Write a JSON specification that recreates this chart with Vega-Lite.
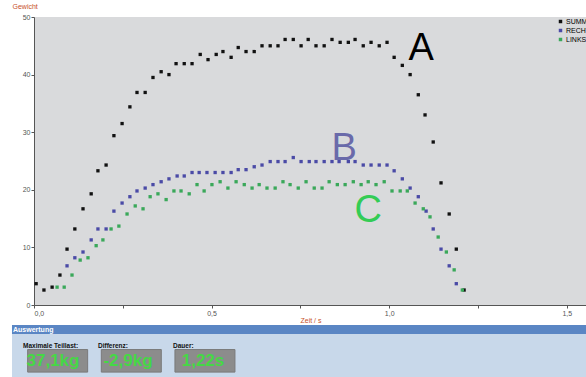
{
 "$schema": "https://vega.github.io/schema/vega-lite/v6.json",
 "background": "white",
 "padding": {"left": 11, "top": 2, "right": 0, "bottom": 0},
 "spacing": 2,
 "config": {"font": "Liberation Sans", "view": {"stroke": null}},
 "datasets": {
  "pts": [
   {"t":0.006,"kg":3.7,"series":"SUMME"},{"t":0.028,"kg":2.6,"series":"SUMME"},{"t":0.051,"kg":3.1,"series":"SUMME"},{"t":0.073,"kg":5.2,"series":"SUMME"},{"t":0.093,"kg":9.7,"series":"SUMME"},{"t":0.115,"kg":13.2,"series":"SUMME"},{"t":0.138,"kg":16.7,"series":"SUMME"},{"t":0.161,"kg":19.3,"series":"SUMME"},{"t":0.180,"kg":23.3,"series":"SUMME"},{"t":0.203,"kg":24.3,"series":"SUMME"},{"t":0.225,"kg":29.4,"series":"SUMME"},{"t":0.248,"kg":31.5,"series":"SUMME"},{"t":0.270,"kg":34.4,"series":"SUMME"},{"t":0.290,"kg":36.9,"series":"SUMME"},{"t":0.313,"kg":36.9,"series":"SUMME"},{"t":0.335,"kg":39.5,"series":"SUMME"},{"t":0.358,"kg":40.5,"series":"SUMME"},{"t":0.380,"kg":40.0,"series":"SUMME"},{"t":0.400,"kg":41.9,"series":"SUMME"},{"t":0.423,"kg":41.9,"series":"SUMME"},{"t":0.445,"kg":41.9,"series":"SUMME"},{"t":0.468,"kg":43.5,"series":"SUMME"},{"t":0.490,"kg":42.6,"series":"SUMME"},{"t":0.513,"kg":43.5,"series":"SUMME"},{"t":0.532,"kg":44.0,"series":"SUMME"},{"t":0.555,"kg":43.0,"series":"SUMME"},{"t":0.575,"kg":44.7,"series":"SUMME"},{"t":0.597,"kg":44.0,"series":"SUMME"},{"t":0.620,"kg":44.0,"series":"SUMME"},{"t":0.642,"kg":45.0,"series":"SUMME"},{"t":0.665,"kg":45.0,"series":"SUMME"},{"t":0.687,"kg":45.0,"series":"SUMME"},{"t":0.707,"kg":46.1,"series":"SUMME"},{"t":0.730,"kg":46.1,"series":"SUMME"},{"t":0.752,"kg":45.0,"series":"SUMME"},{"t":0.772,"kg":46.1,"series":"SUMME"},{"t":0.794,"kg":45.0,"series":"SUMME"},{"t":0.817,"kg":45.0,"series":"SUMME"},{"t":0.839,"kg":46.1,"series":"SUMME"},{"t":0.862,"kg":45.6,"series":"SUMME"},{"t":0.885,"kg":45.6,"series":"SUMME"},{"t":0.904,"kg":46.1,"series":"SUMME"},{"t":0.927,"kg":45.0,"series":"SUMME"},{"t":0.949,"kg":45.6,"series":"SUMME"},{"t":0.972,"kg":45.0,"series":"SUMME"},{"t":0.994,"kg":45.6,"series":"SUMME"},{"t":1.014,"kg":43.0,"series":"SUMME"},{"t":1.037,"kg":41.6,"series":"SUMME"},{"t":1.059,"kg":40.0,"series":"SUMME"},{"t":1.082,"kg":36.5,"series":"SUMME"},{"t":1.101,"kg":33.0,"series":"SUMME"},{"t":1.124,"kg":28.3,"series":"SUMME"},{"t":1.146,"kg":21.2,"series":"SUMME"},{"t":1.169,"kg":15.8,"series":"SUMME"},{"t":1.189,"kg":9.7,"series":"SUMME"},{"t":1.211,"kg":2.6,"series":"SUMME"},
   {"t":0.093,"kg":6.8,"series":"RECHTS"},{"t":0.115,"kg":8.2,"series":"RECHTS"},{"t":0.138,"kg":9.2,"series":"RECHTS"},{"t":0.161,"kg":11.3,"series":"RECHTS"},{"t":0.180,"kg":13.2,"series":"RECHTS"},{"t":0.203,"kg":13.2,"series":"RECHTS"},{"t":0.225,"kg":16.3,"series":"RECHTS"},{"t":0.248,"kg":17.7,"series":"RECHTS"},{"t":0.270,"kg":18.8,"series":"RECHTS"},{"t":0.290,"kg":19.8,"series":"RECHTS"},{"t":0.313,"kg":20.3,"series":"RECHTS"},{"t":0.335,"kg":20.9,"series":"RECHTS"},{"t":0.358,"kg":21.4,"series":"RECHTS"},{"t":0.380,"kg":21.9,"series":"RECHTS"},{"t":0.403,"kg":22.4,"series":"RECHTS"},{"t":0.423,"kg":22.4,"series":"RECHTS"},{"t":0.445,"kg":23.0,"series":"RECHTS"},{"t":0.465,"kg":23.0,"series":"RECHTS"},{"t":0.487,"kg":23.0,"series":"RECHTS"},{"t":0.510,"kg":23.0,"series":"RECHTS"},{"t":0.532,"kg":23.0,"series":"RECHTS"},{"t":0.555,"kg":23.0,"series":"RECHTS"},{"t":0.575,"kg":23.5,"series":"RECHTS"},{"t":0.597,"kg":23.5,"series":"RECHTS"},{"t":0.620,"kg":24.0,"series":"RECHTS"},{"t":0.642,"kg":24.3,"series":"RECHTS"},{"t":0.665,"kg":24.9,"series":"RECHTS"},{"t":0.687,"kg":24.9,"series":"RECHTS"},{"t":0.707,"kg":24.9,"series":"RECHTS"},{"t":0.730,"kg":25.6,"series":"RECHTS"},{"t":0.752,"kg":24.9,"series":"RECHTS"},{"t":0.775,"kg":24.9,"series":"RECHTS"},{"t":0.794,"kg":24.9,"series":"RECHTS"},{"t":0.817,"kg":24.9,"series":"RECHTS"},{"t":0.839,"kg":24.9,"series":"RECHTS"},{"t":0.859,"kg":24.9,"series":"RECHTS"},{"t":0.885,"kg":24.9,"series":"RECHTS"},{"t":0.904,"kg":24.9,"series":"RECHTS"},{"t":0.927,"kg":24.3,"series":"RECHTS"},{"t":0.949,"kg":24.3,"series":"RECHTS"},{"t":0.972,"kg":24.3,"series":"RECHTS"},{"t":0.994,"kg":24.3,"series":"RECHTS"},{"t":1.014,"kg":23.3,"series":"RECHTS"},{"t":1.037,"kg":21.9,"series":"RECHTS"},{"t":1.059,"kg":20.3,"series":"RECHTS"},{"t":1.082,"kg":18.8,"series":"RECHTS"},{"t":1.104,"kg":16.3,"series":"RECHTS"},{"t":1.124,"kg":13.2,"series":"RECHTS"},{"t":1.146,"kg":9.7,"series":"RECHTS"},{"t":1.169,"kg":6.8,"series":"RECHTS"},{"t":1.189,"kg":3.7,"series":"RECHTS"},
   {"t":0.065,"kg":3.1,"series":"LINKS"},{"t":0.085,"kg":3.1,"series":"LINKS"},{"t":0.107,"kg":5.2,"series":"LINKS"},{"t":0.130,"kg":7.8,"series":"LINKS"},{"t":0.152,"kg":8.2,"series":"LINKS"},{"t":0.175,"kg":10.3,"series":"LINKS"},{"t":0.194,"kg":11.3,"series":"LINKS"},{"t":0.217,"kg":13.2,"series":"LINKS"},{"t":0.239,"kg":13.7,"series":"LINKS"},{"t":0.262,"kg":15.8,"series":"LINKS"},{"t":0.285,"kg":17.2,"series":"LINKS"},{"t":0.307,"kg":16.7,"series":"LINKS"},{"t":0.327,"kg":18.8,"series":"LINKS"},{"t":0.349,"kg":19.3,"series":"LINKS"},{"t":0.372,"kg":18.3,"series":"LINKS"},{"t":0.394,"kg":19.8,"series":"LINKS"},{"t":0.414,"kg":19.8,"series":"LINKS"},{"t":0.437,"kg":19.3,"series":"LINKS"},{"t":0.459,"kg":20.9,"series":"LINKS"},{"t":0.479,"kg":19.8,"series":"LINKS"},{"t":0.501,"kg":20.9,"series":"LINKS"},{"t":0.524,"kg":21.4,"series":"LINKS"},{"t":0.546,"kg":20.3,"series":"LINKS"},{"t":0.569,"kg":21.4,"series":"LINKS"},{"t":0.592,"kg":20.9,"series":"LINKS"},{"t":0.614,"kg":20.3,"series":"LINKS"},{"t":0.634,"kg":20.9,"series":"LINKS"},{"t":0.656,"kg":20.3,"series":"LINKS"},{"t":0.679,"kg":20.3,"series":"LINKS"},{"t":0.701,"kg":21.4,"series":"LINKS"},{"t":0.721,"kg":20.9,"series":"LINKS"},{"t":0.744,"kg":20.3,"series":"LINKS"},{"t":0.766,"kg":21.4,"series":"LINKS"},{"t":0.789,"kg":20.3,"series":"LINKS"},{"t":0.811,"kg":20.3,"series":"LINKS"},{"t":0.831,"kg":21.4,"series":"LINKS"},{"t":0.854,"kg":20.9,"series":"LINKS"},{"t":0.876,"kg":20.9,"series":"LINKS"},{"t":0.899,"kg":21.4,"series":"LINKS"},{"t":0.921,"kg":20.9,"series":"LINKS"},{"t":0.941,"kg":21.4,"series":"LINKS"},{"t":0.963,"kg":20.9,"series":"LINKS"},{"t":0.986,"kg":21.4,"series":"LINKS"},{"t":1.008,"kg":19.8,"series":"LINKS"},{"t":1.031,"kg":19.8,"series":"LINKS"},{"t":1.051,"kg":19.8,"series":"LINKS"},{"t":1.073,"kg":17.7,"series":"LINKS"},{"t":1.096,"kg":16.7,"series":"LINKS"},{"t":1.115,"kg":15.3,"series":"LINKS"},{"t":1.138,"kg":11.8,"series":"LINKS"},{"t":1.161,"kg":9.2,"series":"LINKS"},{"t":1.183,"kg":6.1,"series":"LINKS"},{"t":1.206,"kg":2.6,"series":"LINKS"}
  ],
  "letters": [
   {"letter":"A","t":1.090,"kg":44.5},
   {"letter":"B","t":0.873,"kg":27.0},
   {"letter":"C","t":0.941,"kg":16.3}
  ],
  "results": [
   {"metric":"Maximale Teillast:","value":"37,1kg"},
   {"metric":"Differenz:","value":"-2,9kg"},
   {"metric":"Dauer:","value":"1,22s"}
  ],
  "header": [{"section":"Auswertung"}]
 },
 "vconcat": [
  {
   "width": 553,
   "height": 288,
   "view": {"fill": "#d9dadc", "stroke": null},
   "layer": [
    {
     "data": {"name": "pts"},
     "mark": {"type": "point", "shape": "square", "filled": true, "size": 11, "opacity": 1},
     "encoding": {
      "x": {"field": "t", "type": "quantitative",
            "scale": {"domain": [0, 1.557], "nice": false, "zero": false},
            "axis": {"values": [0, 0.25, 0.5, 0.75, 1, 1.25, 1.5],
                     "labelExpr": "datum.value * 2 == round(datum.value * 2) ? replace(format(datum.value, '.1f'), '.', ',') : ''",
                     "grid": false, "title": "Zeit / s", "titleFontSize": 7, "titleColor": "#c8502a",
                     "titleFontWeight": "normal", "titlePadding": 0, "labelFontSize": 7, "labelColor": "#555555",
                     "tickSize": 3, "tickColor": "#555555", "domainColor": "#555555", "labelPadding": 1}},
      "y": {"field": "kg", "type": "quantitative",
            "scale": {"domain": [0, 50], "nice": false},
            "axis": {"values": [0, 5, 10, 15, 20, 25, 30, 35, 40, 45, 50],
                     "labelExpr": "datum.value % 10 == 0 ? datum.label : ''",
                     "grid": false, "title": "Gewicht", "titleAngle": 0, "titleX": -22, "titleY": -9,
                     "titleAlign": "left", "titleBaseline": "alphabetic", "titleFontSize": 7,
                     "titleColor": "#c8502a", "titleFontWeight": "normal", "labelFontSize": 7,
                     "labelColor": "#555555", "tickSize": 3, "tickColor": "#555555",
                     "domainColor": "#555555", "labelPadding": 1}},
      "color": {"field": "series", "type": "nominal",
                "scale": {"domain": ["SUMME", "RECHTS", "LINKS"], "range": ["#111111", "#4a4aa6", "#3aa85a"]},
                "legend": {"orient": "none", "legendX": 523, "legendY": 1, "title": null,
                           "symbolType": "square", "symbolSize": 12, "labelFontSize": 7,
                           "rowPadding": 1, "labelOffset": 2, "symbolStrokeWidth": 0,
                           "encode": {"labels": {"update": {"fill": {"signal": "datum.value === 'SUMME' ? '#111111' : datum.value === 'RECHTS' ? '#5a5ab0' : '#3aa85a'"}}}}}}
     }
    },
    {
     "data": {"name": "letters"},
     "mark": {"type": "text", "fontSize": 38, "baseline": "middle", "align": "center"},
     "encoding": {
      "x": {"field": "t", "type": "quantitative"},
      "y": {"field": "kg", "type": "quantitative"},
      "text": {"field": "letter"},
      "color": {"field": "letter", "type": "nominal",
                "scale": {"domain": ["A", "B", "C"], "range": ["#000000", "#6a6aaa", "#33cc55"]},
                "legend": null}
     }
    }
   ],
   "resolve": {"scale": {"color": "independent"}}
  },
  {
   "width": 553,
   "height": 53,
   "layer": [
    {
     "data": {"name": "header"},
     "mark": {"type": "rect", "color": "#c8d8ea"},
     "encoding": {
      "x": {"datum": -0.0398, "type": "quantitative", "scale": {"domain": [0, 1], "nice": false, "zero": false}, "axis": null},
      "x2": {"datum": 1},
      "y": {"datum": 0, "type": "quantitative", "scale": {"domain": [0, 1], "nice": false}, "axis": null},
      "y2": {"datum": 0.83}
     }
    },
    {
     "data": {"name": "header"},
     "mark": {"type": "rect", "color": "#5a86c4"},
     "encoding": {
      "x": {"datum": -0.0398, "type": "quantitative", "scale": {"domain": [0, 1], "nice": false, "zero": false}, "axis": null},
      "x2": {"datum": 1},
      "y": {"datum": 0.83, "type": "quantitative", "scale": {"domain": [0, 1], "nice": false}, "axis": null},
      "y2": {"datum": 1}
     }
    },
    {
     "data": {"name": "header"},
     "mark": {"type": "text", "color": "white", "fontSize": 7, "fontWeight": "bold", "align": "left", "baseline": "middle"},
     "encoding": {
      "x": {"datum": -0.038, "type": "quantitative", "scale": {"domain": [0, 1], "nice": false, "zero": false}, "axis": null},
      "y": {"datum": 0.915, "type": "quantitative", "scale": {"domain": [0, 1], "nice": false}, "axis": null},
      "text": {"field": "section"}
     }
    },
    {
     "data": {"name": "results"},
     "transform": [{"window": [{"op": "row_number", "as": "slot"}]}],
     "mark": {"type": "bar", "color": "#8c8c8c", "stroke": "#7a7a7a", "strokeWidth": 1, "width": 60},
     "encoding": {
      "x": {"field": "slot", "type": "quantitative", "scale": {"domain": [0.7467, 8.12], "nice": false, "zero": false}, "axis": null},
      "y": {"datum": 0.111, "type": "quantitative", "scale": {"domain": [0, 1], "nice": false}, "axis": null},
      "y2": {"datum": 0.537}
     }
    },
    {
     "data": {"name": "results"},
     "transform": [{"window": [{"op": "row_number", "as": "slot"}]}],
     "mark": {"type": "text", "color": "#45d845", "fontSize": 17, "fontWeight": "bold", "baseline": "middle", "align": "center"},
     "encoding": {
      "x": {"field": "slot", "type": "quantitative", "scale": {"domain": [0.7467, 8.12], "nice": false, "zero": false}, "axis": null},
      "y": {"datum": 0.324, "type": "quantitative", "scale": {"domain": [0, 1], "nice": false}, "axis": null},
      "text": {"field": "value"}
     }
    },
    {
     "data": {"name": "results"},
     "transform": [{"window": [{"op": "row_number", "as": "slot"}]}],
     "mark": {"type": "text", "color": "#111111", "fontSize": 6.5, "fontWeight": "bold", "baseline": "middle", "align": "left"},
     "encoding": {
      "x": {"field": "slot", "type": "quantitative", "scale": {"domain": [1.1467, 8.52], "nice": false, "zero": false}, "axis": null},
      "y": {"datum": 0.61, "type": "quantitative", "scale": {"domain": [0, 1], "nice": false}, "axis": null},
      "text": {"field": "metric"}
     }
    }
   ],
   "resolve": {"scale": {"x": "independent"}}
  }
 ]
}
